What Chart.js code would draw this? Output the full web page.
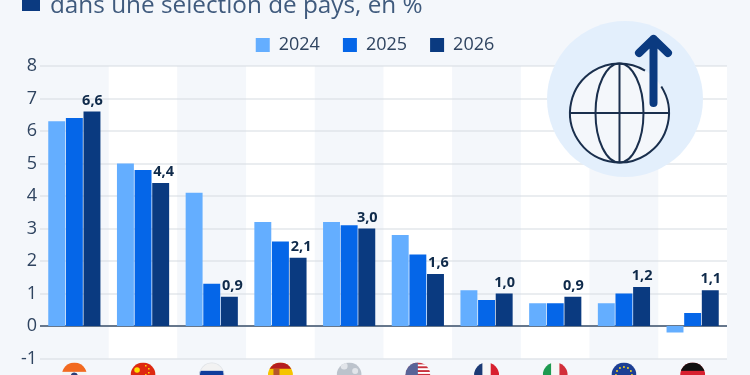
<!DOCTYPE html>
<html>
<head>
<meta charset="utf-8">
<style>
html,body{margin:0;padding:0;background:#f4f7fb;overflow:hidden}
#wrap{position:relative;width:750px;height:375px}
#titre{position:absolute;left:50px;top:-13px;font:24.3px "Open Sans",sans-serif;color:#3f5a7d;white-space:nowrap}
#carre{position:absolute;left:22px;top:-7px;width:18px;height:18px;background:#0b3a80}
</style>
</head>
<body>
<div id="wrap">
<canvas id="graph" width="750" height="375"></canvas>
<div id="carre"></div>
<div id="titre">dans une sélection de pays, en %</div>
</div>
<script src="https://cdn.jsdelivr.net/npm/chart.js@4"></script>
<script>
var pays = ['Inde','Chine','Russie','Espagne','Monde','États-Unis','France','Italie','Zone euro','Allemagne'];
var val2024 = [6.3,5.0,4.1,3.2,3.2,2.8,1.1,0.7,0.7,-0.2];
var val2025 = [6.4,4.8,1.3,2.6,3.1,2.2,0.8,0.7,1.0,0.4];
var val2026 = [6.6,4.4,0.9,2.1,3.0,1.6,1.0,0.9,1.2,1.1];

function virgule(v){ return v.toFixed(1).replace('.',','); }

// legend is centred on the page, not on the padded box
var legendeCentre = {
    id:'legendeCentre',
    afterLayout:function(chart){
        chart.legend.left += 11.5;
        chart.legend.right += 11.5;
        chart.legend.top -= 2;
        chart.legend.bottom -= 2;
    }
};

// bands behind the bars
var bandes = {
    id:'bandes',
    beforeDatasetsDraw:function(chart){
        var c = chart.ctx, x = chart.scales.x, a = chart.chartArea;
        var w = a.width/pays.length;
        c.save();
        pays.forEach(function(p,i){
            c.fillStyle = i%2 ? '#ffffff' : '#f4f7fb';
            c.fillRect(x.getPixelForValue(i)-w/2, a.top, w, a.height);
        });
        // gridlines again, the bands hide the library's ones
        var y = chart.scales.y;
        y.ticks.forEach(function(t){
            c.fillStyle = t.value===0 ? '#66778c' : '#d6dbe2';
            var h = t.value===0 ? 2 : 1;
            c.fillRect(a.left, Math.round(y.getPixelForValue(t.value))-h/2, a.width, h);
        });
        c.restore();
    }
};

// value labels of the last series
var etiquettes = {
    id:'etiquettes',
    afterDatasetsDraw:function(chart){
        var c = chart.ctx, m = chart.getDatasetMeta(2);
        c.save();
        c.font = 'bold 14.5px "Open Sans"';
        c.fillStyle = '#0f2a4a';
        c.textAlign = 'center';
        c.textBaseline = 'alphabetic';
        m.data.forEach(function(b,i){
            // pushed right when the 2025 bar next to it is taller
            var dx = val2025[i]-val2026[i] >= 0.3 ? 3 : 0.5;
            c.fillText(virgule(val2026[i]), b.x+dx, b.y-7);
        });
        c.restore();
    }
};

function etoiles(c,x,y,r,n,R,col){
    c.fillStyle = col;
    for(var i=0;i<n;i++){
        var a = i/n*Math.PI*2;
        c.beginPath();
        c.arc(x+Math.cos(a)*R, y+Math.sin(a)*R, r, 0, 7);
        c.fill();
    }
}

// flags, only the top of them fits in the picture
var drapeaux = {
    id:'drapeaux',
    afterDraw:function(chart){
        var c = chart.ctx, xs = chart.scales.x, r = 12.5, y = 375;
        pays.forEach(function(p,i){
            var x = xs.getPixelForValue(i);
            c.save();
            c.beginPath(); c.arc(x,y,r,0,7); c.clip();
            var L = x-r, T = y-r, d = 2*r;
            if(p=='Inde'){
                c.fillStyle='#f4f4f4'; c.fillRect(L,T,d,d);
                c.fillStyle='#f26a21'; c.fillRect(L,T,d,d/3+1);
                c.fillStyle='#2c3e78'; c.beginPath(); c.arc(x,y+1,3.5,0,7); c.fill();
            } else if(p=='Chine'){
                c.fillStyle='#de2910'; c.fillRect(L,T,d,d);
                c.fillStyle='#ffde00'; c.beginPath(); c.arc(x-6,y-5,2.8,0,7); c.fill();
                c.fillRect(x+2,y-10,1.5,1.5); c.fillRect(x+5,y-7,1.5,1.5); c.fillRect(x+5,y-3,1.5,1.5); c.fillRect(x+2,y-1,1.5,1.5);
            } else if(p=='Russie'){
                c.fillStyle='#f2f2f2'; c.fillRect(L,T,d,d);
                c.fillStyle='#0f3d9c'; c.fillRect(L,T+d/3,d,d/3);
                c.strokeStyle='#dfe3e8'; c.lineWidth=1.5; c.beginPath(); c.arc(x,y,r,0,7); c.stroke();
            } else if(p=='Espagne'){
                c.fillStyle='#f5c400'; c.fillRect(L,T,d,d);
                c.fillStyle='#b51d20'; c.fillRect(L,T,d,d/4);
                c.fillStyle='#b5562a'; c.fillRect(x-7,y-6,6,6);
            } else if(p=='Monde'){
                c.fillStyle='#bcc3cc'; c.fillRect(L,T,d,d);
                c.fillStyle='#e2e5ea'; c.beginPath(); c.arc(x-5,y-9,3.5,0,7); c.arc(x+6,y-4,3,0,7); c.fill();
            } else if(p=='États-Unis'){
                c.fillStyle='#ffffff'; c.fillRect(L,T,d,d);
                c.fillStyle='#c8313e';
                for(var k=0;k<7;k++) c.fillRect(L,T+k*3.8,d,1.9);
                c.fillStyle='#5a6498'; c.fillRect(L,T,d/2,d/2);
            } else if(p=='France'){
                c.fillStyle='#f6f6f6'; c.fillRect(L,T,d,d);
                c.fillStyle='#1b3a75'; c.fillRect(L,T,d/3,d);
                c.fillStyle='#d8202f'; c.fillRect(L+2*d/3,T,d/3,d);
            } else if(p=='Italie'){
                c.fillStyle='#f6f6f6'; c.fillRect(L,T,d,d);
                c.fillStyle='#1d9a50'; c.fillRect(L,T,d/3,d);
                c.fillStyle='#d22f3a'; c.fillRect(L+2*d/3,T,d/3,d);
            } else if(p=='Zone euro'){
                c.fillStyle='#1d3f94'; c.fillRect(L,T,d,d);
                etoiles(c,x,y,1,12,8,'#f2d21f');
            } else if(p=='Allemagne'){
                c.fillStyle='#d8202f'; c.fillRect(L,T,d,d);
                c.fillStyle='#111111'; c.fillRect(L,T,d,d/3);
            }
            c.restore();
        });
        icone(c);
    }
};

// round picto top right
function icone(c){
    c.save();
    c.fillStyle='#e3effc';
    c.beginPath(); c.arc(625,99,78,0,7); c.fill();
    c.fillStyle='#f4f7fb';
    c.beginPath(); c.arc(619.5,113,49.5,0,7); c.fill();
    c.strokeStyle='#1a2f4d'; c.lineWidth=2;
    c.beginPath(); c.arc(619.5,113,49.5,-0.565,2*Math.PI-1.03); c.stroke();
    c.beginPath(); c.ellipse(619.5,113,24,49.5,0,0,7); c.stroke();
    c.beginPath(); c.moveTo(619.5,63.5); c.lineTo(619.5,162.5); c.moveTo(570,113); c.lineTo(669,113); c.stroke();
    c.strokeStyle='#0a3a80'; c.lineWidth=8; c.lineCap='round'; c.lineJoin='round';
    c.beginPath(); c.moveTo(653.5,103); c.lineTo(653.5,39); c.moveTo(639,53); c.lineTo(653.5,39); c.lineTo(668,53); c.stroke();
    c.restore();
}

new Chart(document.getElementById('graph'),{
    type:'bar',
    data:{
        labels:pays,
        datasets:[
            {label:'2024',data:val2024,backgroundColor:'#64aeff'},
            {label:'2025',data:val2025,backgroundColor:'#0566e8'},
            {label:'2026',data:val2026,backgroundColor:'#0a3a80'}
        ]
    },
    plugins:[legendeCentre,bandes,etiquettes,drapeaux],
    options:{
        responsive:false,
        animation:false,
        categoryPercentage:0.77,
        barPercentage:0.96,
        layout:{padding:{top:15,right:23,bottom:8.5,left:0}},
        plugins:{
            title:{display:false},
            tooltip:{enabled:false},
            legend:{
                position:'top',
                align:'center',
                labels:{
                    boxWidth:14,boxHeight:14,padding:23,
                    color:'#2f4460',
                    font:{family:'"Open Sans"',size:18}
                }
            }
        },
        scales:{
            x:{
                grid:{display:false},
                border:{display:false},
                ticks:{display:false}
            },
            y:{
                min:-1,max:8,
                afterFit:function(s){ s.width=40; },
                grid:{display:false,tickLength:0},
                border:{display:false},
                ticks:{stepSize:1,color:'#2f4460',padding:3,font:{family:'"Open Sans"',size:18}}
            }
        }
    }
});
</script>
</body>
</html>
